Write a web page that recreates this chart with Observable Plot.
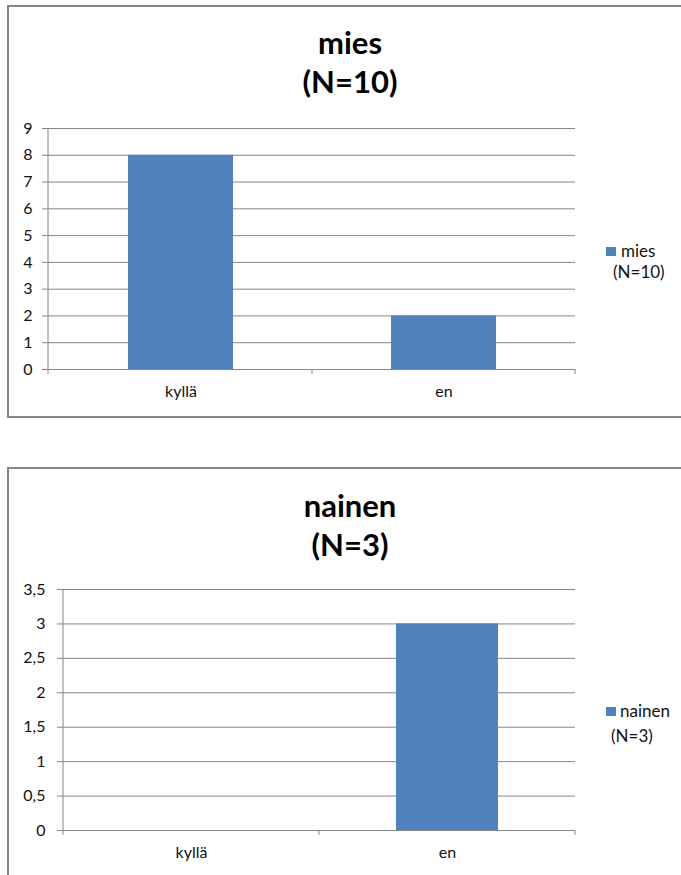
<!DOCTYPE html>
<html>
<head>
<meta charset="utf-8">
<script src="https://cdn.jsdelivr.net/npm/d3@7"></script>
<script src="https://cdn.jsdelivr.net/npm/@observablehq/plot@0.6"></script>
<style>
  html, body { margin: 0; padding: 0; width: 681px; height: 875px; overflow: hidden; background: #fff; font-family: Lato, "Open Sans", sans-serif; }
  .box { position: absolute; left: 7px; width: 720px; border: 2px solid #868686; box-sizing: border-box; }
  .title { position: absolute; width: 200px; left: 250px; text-align: center; font-weight: bold; font-size: 31px; line-height: 39px; color: #000; }
  .plot { position: absolute; left: 0; }
  .leg { position: absolute; font-size: 17px; color: #111; line-height: 20px; }
  .sw { position: absolute; width: 10px; height: 9px; background: #4F81BD; }
</style>
</head>
<body>
<div class="box" style="top:5px;height:413px;"></div>
<div class="box" style="top:467px;height:450px;"></div>

<div class="title" style="top:23px;">mies<br>(N=10)</div>
<div class="title" style="top:486px;">nainen<br>(N=3)</div>

<div class="plot" id="p1" style="top:110px;"></div>
<div class="plot" id="p2" style="top:570px;"></div>

<div class="sw" style="left:606px;top:247px;"></div>
<div class="leg" style="left:621px;top:241px;">mies</div>
<div class="leg" style="left:613px;top:262px;">(N=10)</div>

<div class="sw" style="left:606px;top:707px;"></div>
<div class="leg" style="left:620px;top:701px;">nainen</div>
<div class="leg" style="left:611px;top:726px;">(N=3)</div>

<script>
const categories = ["kyllä", "en"];
const miesValues = [8, 2];
const nainenValues = [0, 3];
const miesTicks = [0, 1, 2, 3, 4, 5, 6, 7, 8, 9];
const nainenTicks = [0, 0.5, 1, 1.5, 2, 2.5, 3, 3.5];

const barColor = "#4F81BD";
const gridColor = "#868686";
const fmt = d => String(d).replace(".", ",");

function axisFrame(cats) {
  return (index, scales, values, dimensions) => {
    const g = d3.create("svg:g");
    const left = dimensions.marginLeft;
    const right = dimensions.width - dimensions.marginRight;
    const y0 = dimensions.height - dimensions.marginBottom;
    const top = dimensions.marginTop;
    g.append("line").attr("x1", left).attr("x2", left).attr("y1", top).attr("y2", y0 + 5)
      .attr("stroke", gridColor);
    const xs = cats.slice(1).map(c => scales.x(c)).concat([right]);
    for (const x of xs) {
      g.append("line").attr("x1", x).attr("x2", x).attr("y1", y0).attr("y2", y0 + 5)
        .attr("stroke", gridColor);
    }
    return g.node();
  };
}

function makeChart(values, ticks, opts) {
  const data = categories.map((c, i) => ({cat: c, value: values[i]}));
  return Plot.plot({
    width: 600,
    height: 300,
    marginLeft: opts.ml,
    marginRight: 25,
    marginTop: opts.mt,
    marginBottom: opts.mb,
    style: {fontFamily: "Lato, 'Open Sans', sans-serif", fontSize: "16px", color: "#000", background: "transparent", overflow: "visible"},
    x: {type: "band", domain: categories, padding: 0},
    y: {domain: [ticks[0], ticks[ticks.length - 1]]},
    marks: [
      Plot.gridY(ticks, {stroke: gridColor, strokeOpacity: 1}),
      Plot.barY(data, {x: "cat", y: "value", fill: barColor, insetLeft: opts.inset, insetRight: opts.inset}),
      Plot.ruleY([0], {stroke: gridColor}),
      Plot.axisY(ticks, {tickSize: 6, tickPadding: opts.tp, tickFormat: fmt, label: null, stroke: gridColor, fill: "#111", fontSize: 16}),
      Plot.axisX({tickSize: 0, tickPadding: 16, label: null, fill: "#111", fontSize: 16}),
      axisFrame(categories)
    ]
  });
}

document.getElementById("p1").appendChild(
  makeChart(miesValues, miesTicks, {ml: 48, mt: 18, mb: 41, inset: 79, tp: 10})
);
document.getElementById("p2").appendChild(
  makeChart(nainenValues, nainenTicks, {ml: 63, mt: 19, mb: 40, inset: 77, tp: 12})
);
</script>
</body>
</html>
